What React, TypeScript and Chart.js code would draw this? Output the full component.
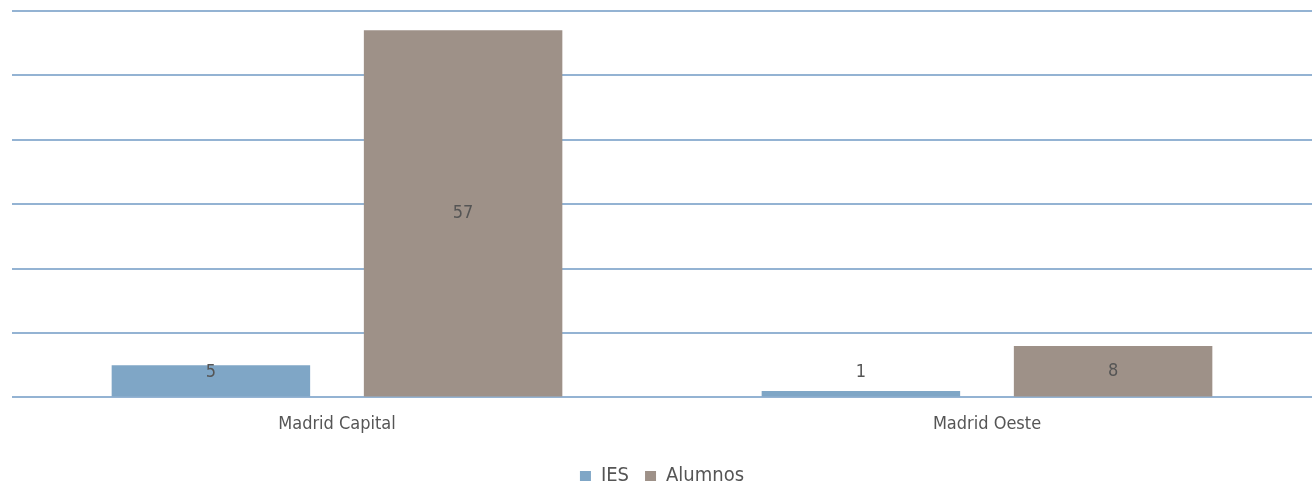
import React, { useEffect, useRef } from "react";
import { Chart, registerables } from "chart.js";

Chart.register(...registerables);

const categories = ["Madrid Capital", "Madrid Oeste"];
const iesValues = [5, 1];
const alumnosValues = [57, 8];
const seriesNames = ["IES", "Alumnos"];

const FONT = "'DejaVu Sans Condensed', 'Liberation Sans Narrow', 'Roboto', sans-serif";

const labelPlugin = {
  id: "barLabels",
  afterDatasetsDraw(chart: any) {
    const ctx = chart.ctx;
    ctx.save();
    ctx.font = `18px ${FONT}`;
    ctx.fillStyle = "#555555";
    ctx.textAlign = "center";
    ctx.textBaseline = "middle";
    chart.data.datasets.forEach((ds: any, i: number) => {
      const meta = chart.getDatasetMeta(i);
      meta.data.forEach((bar: any, j: number) => {
        const center = (bar.y + bar.base) / 2;
        const y = Math.min(center, bar.base - 24);
        ctx.fillText(String(ds.data[j]), bar.x, y);
      });
    });
    ctx.restore();
  },
};

export default function App() {
  const ref = useRef<HTMLCanvasElement>(null);
  useEffect(() => {
    if (!ref.current) return;
    const chart = new Chart(ref.current, {
      type: "bar",
      data: {
        labels: categories,
        datasets: [
          {
            label: seriesNames[0],
            data: iesValues,
            backgroundColor: "#7fa6c6",
            categoryPercentage: 0.776,
            barPercentage: 0.787,
          },
          {
            label: seriesNames[1],
            data: alumnosValues,
            backgroundColor: "#9e9188",
            categoryPercentage: 0.776,
            barPercentage: 0.787,
          },
        ],
      },
      options: {
        animation: false,
        responsive: true,
        maintainAspectRatio: false,
        layout: { padding: { left: 12, right: 2, top: 11, bottom: -12 } },
        plugins: {
          tooltip: { enabled: false },
          legend: {
            position: "bottom",
            labels: {
              boxWidth: 11,
              boxHeight: 10,
              color: "#555555",
              font: { family: FONT, size: 20 },
              padding: 16,
            },
          },
        },
        scales: {
          x: {
            grid: { display: false },
            border: { display: false },
            ticks: {
              color: "#555555",
              font: { family: FONT, size: 18 },
              padding: 8,
            },
            afterFit(scale: any) {
              scale.height += 7;
            },
          },
          y: {
            min: 0,
            max: 60,
            ticks: { display: false, stepSize: 10 },
            border: { display: false },
            grid: { color: "#94b3d3", lineWidth: 2, drawTicks: false },
          },
        },
      },
      plugins: [labelPlugin],
    });
    return () => chart.destroy();
  }, []);
  return (
    <div style={{ position: "fixed", left: 0, top: 0, width: 1314, height: 484, background: "#fff" }}>
      <canvas ref={ref} />
    </div>
  );
}
